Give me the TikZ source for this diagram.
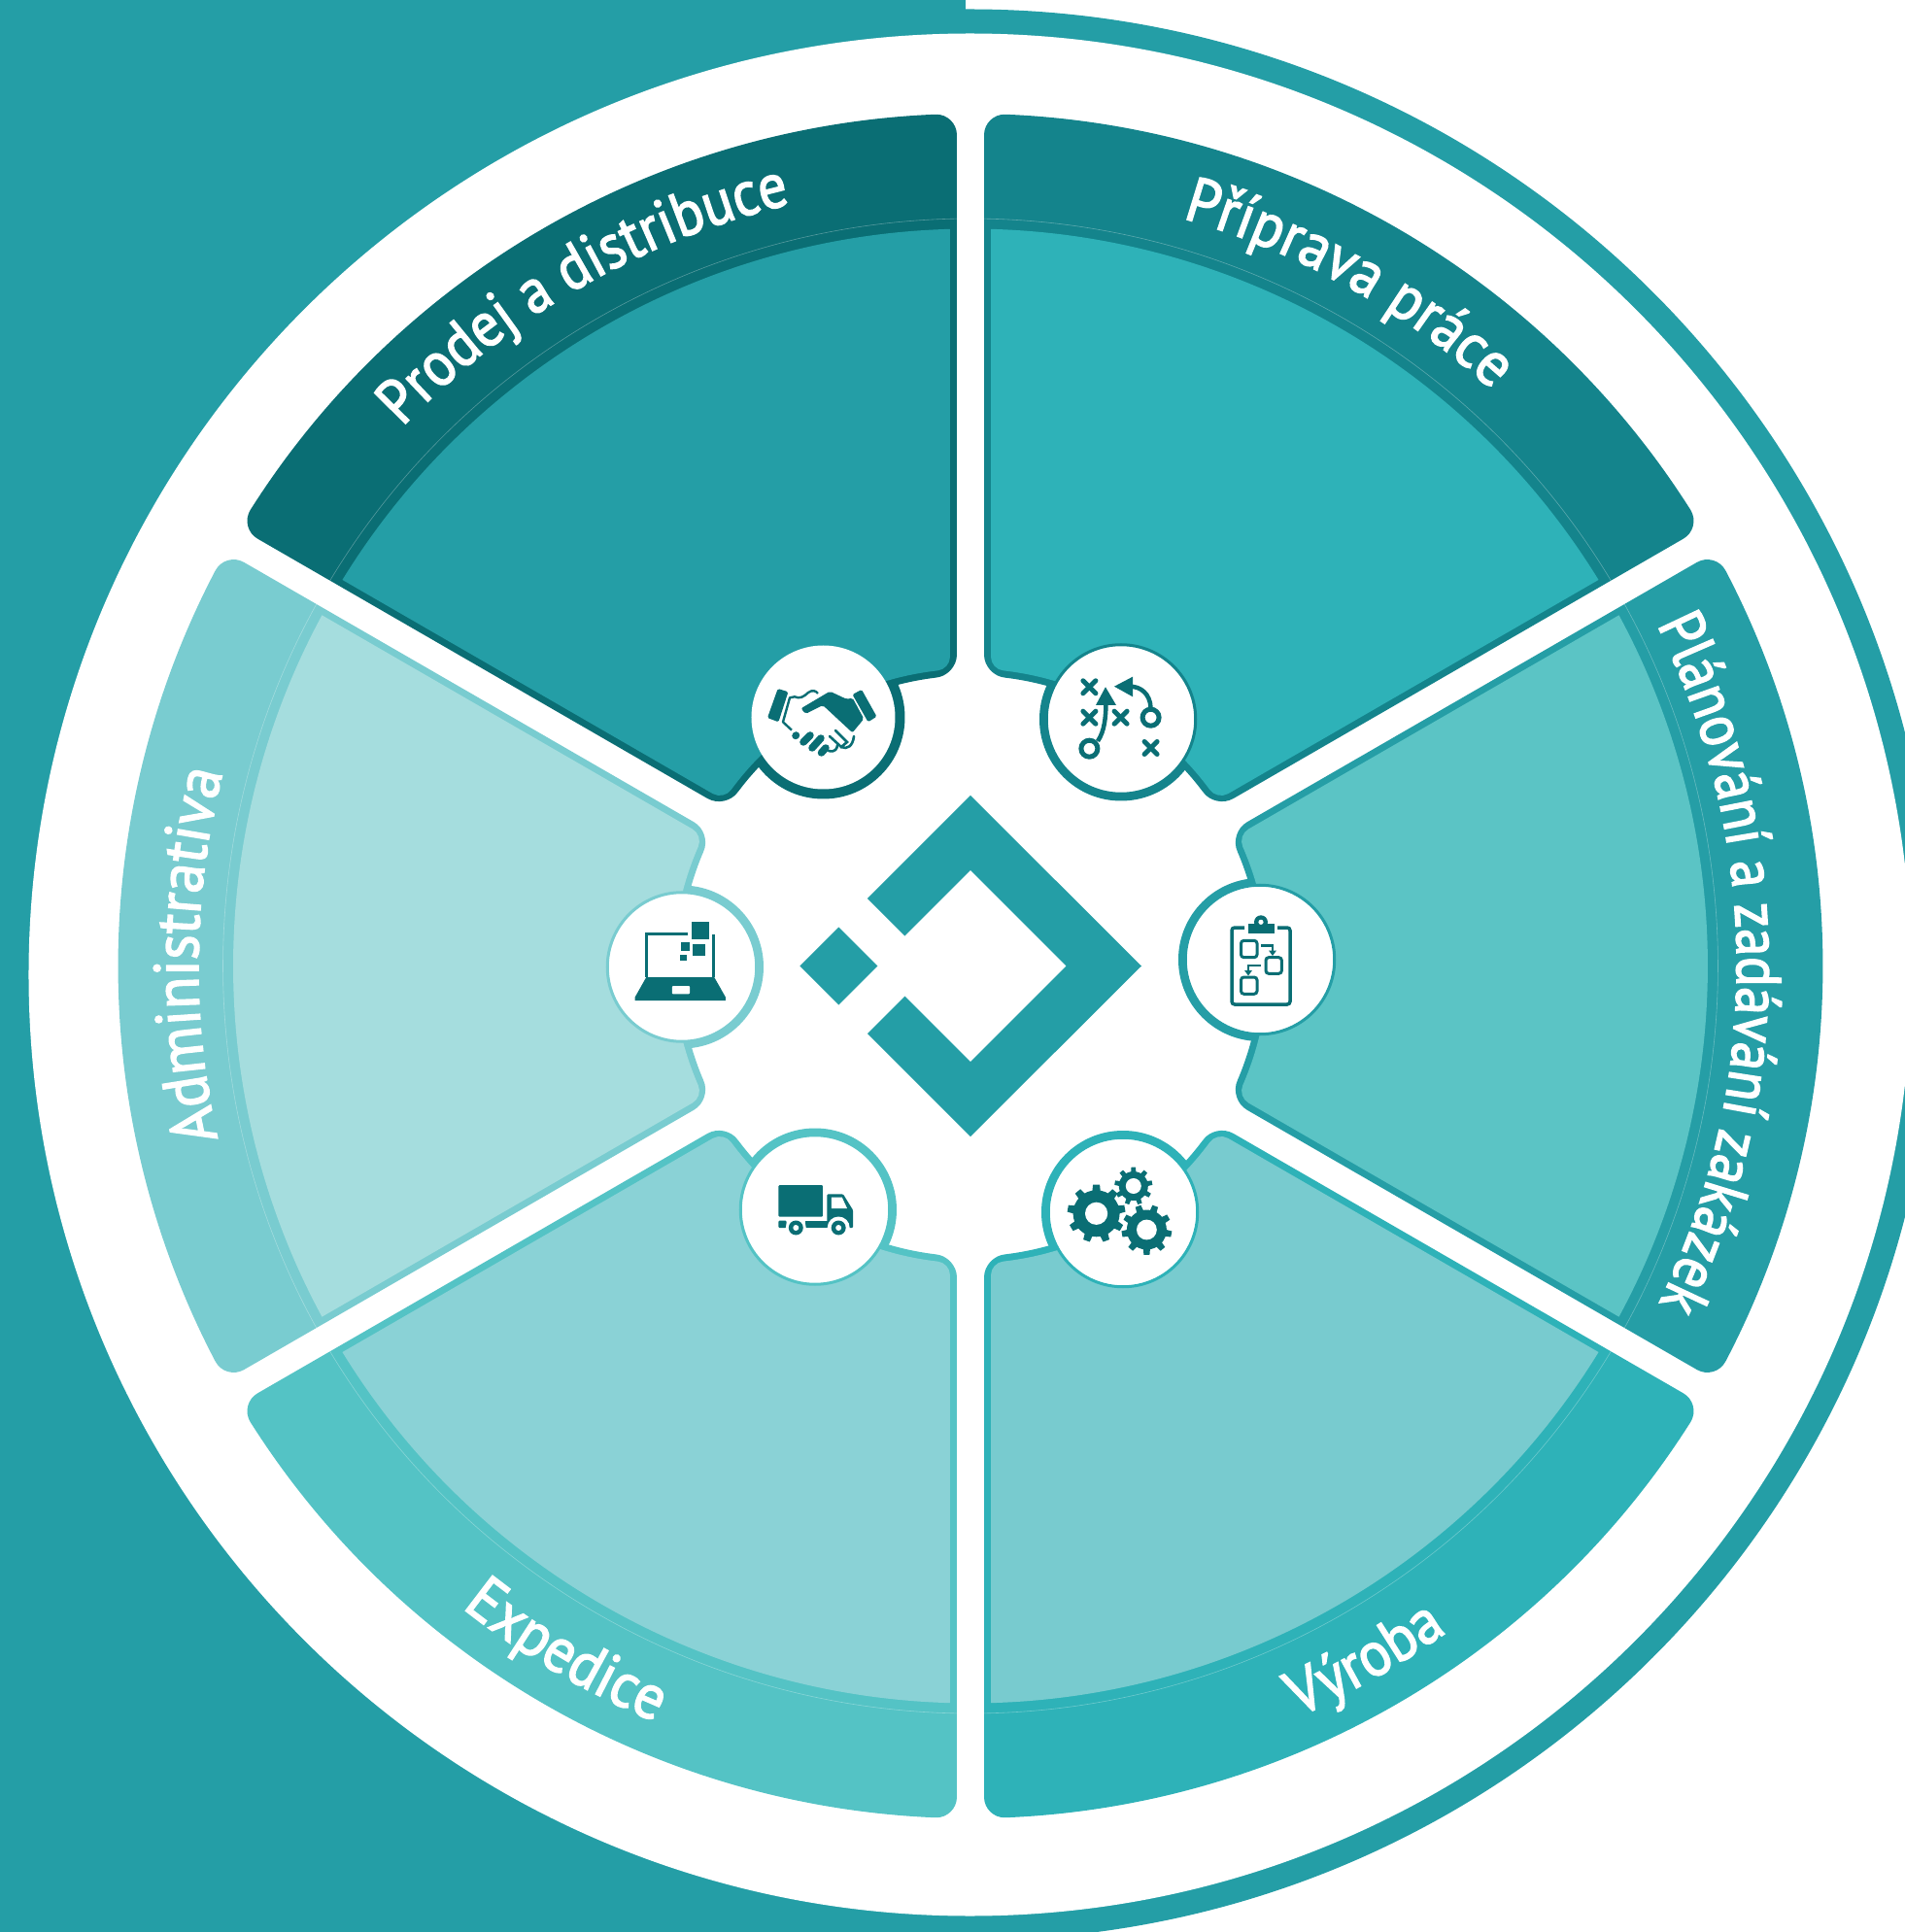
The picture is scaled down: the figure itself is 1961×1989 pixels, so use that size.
\documentclass[tikz,border=0pt]{standalone}
\usepackage{fontspec}
\setmainfont{PT Sans}
\newfontfamily\labfont{PT Sans}[FakeStretch=.925,FakeBold=2.2]
\newfontfamily\labnarrow{PT Sans}[FakeStretch=.88,FakeBold=2.2]
\newfontfamily\labmid{PT Sans}[FakeStretch=.90,FakeBold=2.2]
\newfontfamily\labwide{PT Sans}[FakeStretch=.945,FakeBold=2.2]
\usetikzlibrary{calc,decorations.text}
\definecolor{teal0}{RGB}{36,158,166}
\definecolor{icn}{RGB}{10,110,116}
\definecolor{oA}{RGB}{10,110,116}\definecolor{iA}{RGB}{36,158,166}
\definecolor{oB}{RGB}{20,132,140}\definecolor{iB}{RGB}{46,178,184}
\definecolor{oC}{RGB}{37,158,166}\definecolor{iC}{RGB}{91,196,197}
\definecolor{oD}{RGB}{46,178,184}\definecolor{iD}{RGB}{120,203,207}
\definecolor{oE}{RGB}{84,195,197}\definecolor{iE}{RGB}{138,210,214}
\definecolor{oF}{RGB}{121,204,208}\definecolor{iF}{RGB}{165,221,222}
\newcommand{\lab}{\fontsize{65}{67}\selectfont}
\tikzset{
  px/.style={x=1pt,y=-1pt,shift={(-999pt,994.5pt)}},
  hub/.style={circle,fill=white,inner sep=0pt,minimum size=153.5pt,line width=3pt},
  icn/.style={fill=icn,draw=none},
  icl/.style={draw=icn,fill=none,line width=#1},
  icl/.default=3pt,
  hairline/.style={draw=white,opacity=.3,line width=.6pt},
}
% rotation, colour, R, r, gap, outer corner, inner corner
\newcommand{\ringsector}[7]{%
  \begin{scope}[rotate=#1]
    \pgfmathsetmacro\tO{#3*sqrt(1-(#5/#3)^2)}
    \pgfmathsetmacro\tI{#4*sqrt(1-(#5/#4)^2)}
    \pgfmathsetmacro\aO{30-asin(#5/#3)}
    \pgfmathsetmacro\aI{30-asin(#5/#4)}
    \pgfmathsetmacro\dO{#6/#3*57.2958}
    \pgfmathsetmacro\dI{#7/#4*57.2958}
    \pgfmathsetmacro\sO{90+\aO-\dO}\pgfmathsetmacro\eO{90-\aO+\dO}
    \pgfmathsetmacro\sI{90-\aI+\dI}\pgfmathsetmacro\eI{90+\aI-\dI}
    \pgfmathsetmacro\xA{\tO*.5-#5*.8660254}\pgfmathsetmacro\yA{\tO*.8660254+#5*.5}
    \pgfmathsetmacro\xB{(\tO-#6)*.5-#5*.8660254}\pgfmathsetmacro\yB{(\tO-#6)*.8660254+#5*.5}
    \pgfmathsetmacro\xC{(\tI+#7)*.5-#5*.8660254}\pgfmathsetmacro\yC{(\tI+#7)*.8660254+#5*.5}
    \pgfmathsetmacro\xD{\tI*.5-#5*.8660254}\pgfmathsetmacro\yD{\tI*.8660254+#5*.5}
    \coordinate (sa) at (\sO:#3);\coordinate (sb) at (\eO:#3);
    \coordinate (sc) at (\xA,\yA);\coordinate (sd) at (\xB,\yB);
    \coordinate (se) at (\xC,\yC);\coordinate (sf) at (\xD,\yD);
    \coordinate (sg) at (\sI:#4);\coordinate (sh) at (\eI:#4);
    \coordinate (si) at (-\xD,\yD);\coordinate (sj) at (-\xC,\yC);
    \coordinate (sk) at (-\xB,\yB);\coordinate (sl) at (-\xA,\yA);
    \fill[#2] (sa) arc[start angle=\sO,end angle=\eO,radius=#3]
      .. controls ($(sb)!.55!(sc)$) and ($(sd)!.55!(sc)$) .. (sd)
      -- (se)
      .. controls ($(se)!.55!(sf)$) and ($(sg)!.55!(sf)$) .. (sg)
      arc[start angle=\sI,end angle=\eI,radius=#4]
      .. controls ($(sh)!.55!(si)$) and ($(sj)!.55!(si)$) .. (sj)
      -- (sk)
      .. controls ($(sk)!.55!(sl)$) and ($(sa)!.55!(sl)$) .. (sa) -- cycle;
    \pgfmathsetmacro\aH{30-asin(#5/769.5)}
    \pgfmathsetmacro\sH{90+\aH}\pgfmathsetmacro\eH{90-\aH}
    \ifdim#3pt>800pt
      \draw[hairline] (\sH:769.5) arc[start angle=\sH,end angle=\eH,radius=769.5];
    \fi
  \end{scope}}
% curved label: centre angle, half span (signed), radius, font, text
\newcommand{\arclabel}[5]{%
  \pgfmathsetmacro\sT{#1+#2}\pgfmathsetmacro\eT{#1-#2}
  \path[decorate,decoration={text along path,text color=white,text align={center},
     text={|#4\lab|#5}}] (\sT:#3) arc[start angle=\sT,end angle=\eT,radius=#3];}
% gear: cx, cy, outer, root, hole, teeth, phase
\newcommand{\gearicon}[7]{%
  \begin{scope}[shift={(#1,#2)}]
    \fill[icn] (0,0) circle[radius=#4];
    \foreach \k in {1,...,#6}{
      \pgfmathsetmacro\g{360*\k/#6+#7}
      \pgfmathsetmacro\wa{95/#6}\pgfmathsetmacro\wb{60/#6}
      \fill[icn] ({\g-\wa}:#4-1) -- ({\g-\wb}:#3) -- ({\g+\wb}:#3) -- ({\g+\wa}:#4-1) -- cycle;
    }
    \fill[white] (0,0) circle[radius=#5];
  \end{scope}}
\begin{document}
\begin{tikzpicture}[x=1pt,y=1pt]
\useasboundingbox (-999,-994.5) rectangle (962,994.5);
\clip (-999,-994.5) rectangle (962,994.5);
\fill[white] (-999,-994.5) rectangle (962,994.5);
\begin{scope}[px]
  \fill[teal0] (0,0) rectangle (994,1989);
  \fill[teal0] (998.5,1003.5) circle[radius=994];
  \fill[white] (998.5,1003.5) circle[radius=969];
  % thick collars, behind the sectors
  \fill[oA] (847.5,738.5) circle[radius=84];
  \fill[oB] (1154,740.5) circle[radius=84];
  \fill[oC] (1297,988) circle[radius=84];
  \fill[oD] (1156,1248) circle[radius=84];
  \fill[oE] (839,1245.5) circle[radius=84];
  \fill[oF] (702,995.5) circle[radius=84];
\end{scope}
% sectors
\ringsector{30}{oA}{877.5}{299}{14}{22}{22}
\ringsector{30}{iA}{759}{306}{21}{0}{13}
\ringsector{-30}{oB}{877.5}{299}{14}{22}{22}
\ringsector{-30}{iB}{759}{306}{21}{0}{13}
\ringsector{-90}{oC}{877.5}{299}{14}{22}{22}
\ringsector{-90}{iC}{759}{306}{21}{0}{13}
\ringsector{-150}{oD}{877.5}{299}{14}{22}{22}
\ringsector{-150}{iD}{759}{306}{21}{0}{13}
\ringsector{-210}{oE}{877.5}{299}{14}{22}{22}
\ringsector{-210}{iE}{759}{306}{21}{0}{13}
\ringsector{-270}{oF}{877.5}{299}{14}{22}{22}
\ringsector{-270}{iF}{759}{306}{21}{0}{13}
% labels
\arclabel{119.9}{40}{806}{\labmid}{Prodej a distribuce}
\arclabel{61}{40}{800}{\labfont}{Příprava práce}
\arclabel{0.2}{45}{789}{\labnarrow}{Plánování a zadávání zakázek}
\arclabel{-60.4}{-30}{843}{\labfont}{Výroba}
\arclabel{239.5}{-30}{843}{\labfont}{Expedice}
\arclabel{179.2}{30}{795}{\labwide}{Administrativa}
\begin{scope}[px]
  % logo
  \fill[teal0] (999,819) -- (1175,994.5) -- (999,1170) -- (893,1064) -- (931.5,1025.5)
     -- (999,1093) -- (1097.5,994.5) -- (999,896) -- (931.5,963.5) -- (893,925) -- cycle;
  \fill[teal0] (863.5,954.5) -- (903.5,994.5) -- (863.5,1034.5) -- (823.5,994.5) -- cycle;
  % hubs
  \node[hub,minimum size=148pt,line width=0pt] (hubA) at (847.5,738.5) {};
  \node[hub,draw=oB] (hubB) at (1154,740.5) {};
  \node[hub,draw=oC] (hubC) at (1297,988) {};
  \node[hub,draw=oD] (hubD) at (1156,1248) {};
  \node[hub,draw=oE] (hubE) at (839,1245.5) {};
  \node[hub,draw=oF] (hubF) at (702,995.5) {};
  % handshake
  \fill[icn,rounded corners=1.5pt] (800.7,709) -- (811.4,712.3) -- (801.4,743.3) -- (790,739) -- cycle;
  \fill[icn,rounded corners=1.5pt] (877.5,715) -- (887,710) -- (902.5,737.7) -- (893.6,743.3) -- cycle;
  \fill[icn,rounded corners=2pt] (824.6,729.3) -- (854.3,711.7) -- (872,720) -- (877.5,718.3) -- (889.3,740) -- (877.5,754.3) -- (847,726) -- (829.3,735) -- cycle;
  \draw[icl=2.4pt,line join=round] (815,751.7) -- (806,743.3) -- (813,718.3) -- (818,717.3) .. controls (823,720) and (828,717) .. (832,713) .. controls (836,710) and (840,711) .. (842,714);
  \draw[icl=7.5pt,line cap=round] (819,757.5) -- (819.5,757);
  \draw[icl=7.5pt,line cap=round] (827,764) -- (834,757);
  \draw[icl=7.5pt,line cap=round] (836,770) -- (845,760);
  \draw[icl=7.5pt,line cap=round] (845.5,775) -- (850,770);
  \draw[icl=2.6pt,line cap=round] (854,758) -- (866,769) -- (872,764) -- (860,752);
  \draw[icl=2.6pt,line cap=round] (853,773) .. controls (860,775) and (862,770) .. (862,767);
  \draw[icl=2.6pt,line cap=round] (866,769) .. controls (872,772) and (878,768) .. (879,758);
  % playbook
  \foreach \cx/\cy in {1121.4/707.3,1121.4/738.7,1153.6/738.7,1184.6/770}{
    \draw[icl=5pt,line cap=round] (\cx-6.5,\cy-6.5) -- (\cx+6.5,\cy+6.5);
    \draw[icl=5pt,line cap=round] (\cx-6.5,\cy+6.5) -- (\cx+6.5,\cy-6.5);
  }
  \draw[icl=5pt] (1121.4,770.7) circle[radius=8.5];
  \draw[icl=5pt] (1184.6,738.7) circle[radius=8.5];
  \draw[icl=4.5pt] (1130,763) .. controls (1137,753) and (1138.5,738) .. (1138.5,722);
  \fill[icn] (1138,707.3) -- (1149,726) -- (1128,726) -- cycle;
  \draw[icl=4.5pt] (1184.6,729) .. controls (1184,714) and (1174,706.7) .. (1163,706.7);
  \fill[icn] (1147,706.7) -- (1166,696.7) -- (1166,717.3) -- cycle;
  % laptop
  \draw[icl=3pt] (708,961.7) -- (665.5,961.7) -- (665.5,1006);
  \draw[icl=3pt] (734.5,961.7) -- (734.5,1006);
  \fill[icn] (712.2,949) rectangle (729.6,966.7);
  \fill[icn] (701,970) rectangle (710.2,979);
  \fill[icn] (713.3,971.7) rectangle (726,984);
  \fill[icn] (700,982.7) rectangle (706.6,989);
  \fill[icn] (665.3,1006) -- (735.2,1006) -- (747,1026.7) -- (747,1030) -- (653.6,1030) -- (653.6,1026.7) -- cycle;
  \fill[white,rounded corners=1pt] (691.8,1015) rectangle (710.2,1023.3);
  % clipboard
  \draw[icl=3.5pt,rounded corners=3pt] (1281,955) -- (1268,955) -- (1268,1034) -- (1328,1034) -- (1328,955) -- (1315,955);
  \fill[icn] (1284.7,951) rectangle (1312.2,961);
  \fill[icn] (1298,949.3) circle[radius=7];
  \fill[white] (1298,949.3) circle[radius=2.6];
  \draw[icl=3pt,rounded corners=3pt] (1277.5,968.3) rectangle (1294,985.7);
  \draw[icl=3pt,rounded corners=3pt] (1303,985.7) rectangle (1319.4,1002.3);
  \draw[icl=3pt,rounded corners=3pt] (1277.5,1006) rectangle (1294,1023.3);
  \draw[icl=2.4pt] (1298,973.3) -- (1310,973.3) -- (1310,979);
  \fill[icn] (1306,978.5) -- (1314,978.5) -- (1310,984) -- cycle;
  \draw[icl=2.4pt] (1298,994) -- (1285,994) -- (1285,999.5);
  \fill[icn] (1281,999) -- (1289,999) -- (1285,1004.5) -- cycle;
  % truck
  \fill[icn,rounded corners=1.2pt] (801.4,1220) rectangle (847,1252.7);
  \fill[icn,rounded corners=1.2pt] (851.4,1229.3) -- (867.9,1229.3) -- (878.2,1246) -- (878.2,1264) -- (851.4,1264) -- cycle;
  \fill[white] (856,1232.7) -- (866.8,1232.7) -- (872,1244) -- (856,1244) -- cycle;
  \fill[icn,rounded corners=1pt] (801.4,1256.7) rectangle (809.6,1264);
  \fill[icn] (829.3,1256.7) rectangle (852.5,1264);
  \fill[white] (819.3,1264) circle[radius=10.5];
  \fill[white] (863.2,1264) circle[radius=11.5];
  \fill[white] (811,1266) rectangle (830,1272);
  \fill[icn] (819.3,1264) circle[radius=7.5];
  \fill[white] (819.3,1264) circle[radius=3];
  \fill[icn] (863.2,1264) circle[radius=7.5];
  \fill[white] (863.2,1264) circle[radius=3];
  % gears
  \gearicon{1128.6}{1249.3}{30}{24}{11.6}{9}{-90}
  \gearicon{1180.4}{1266}{26}{20.5}{10.4}{9}{-70}
  \gearicon{1166.8}{1221}{19.6}{15}{8}{9}{-90}
\end{scope}
\end{tikzpicture}
\end{document}
